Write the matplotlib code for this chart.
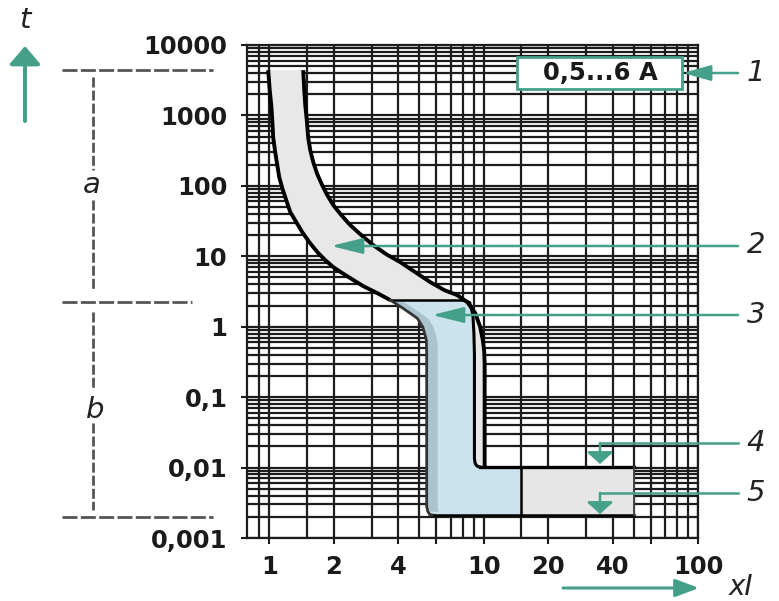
import matplotlib
matplotlib.use("Agg")
import matplotlib.pyplot as plt
from matplotlib.lines import Line2D
from matplotlib.patches import FancyArrowPatch, Rectangle, ArrowStyle
from matplotlib.ticker import LogLocator, NullFormatter, FixedLocator

# ---------------- data ----------------
x_ticks = [1, 2, 4, 6, 10, 20, 40, 60, 100]
x_tick_labels = ['1', '2', '4', '', '10', '20', '40', '', '100']
x_minor_grid = [0.9, 1.5, 3, 5, 7, 8, 9, 15, 30, 50, 70, 80, 90]
y_ticks = [0.001, 0.01, 0.1, 1, 10, 100, 1000, 10000]
y_tick_labels = ['0,001', '0,01', '0,1', '1', '10', '100', '1000', '10000']

# zone 2 : thermal release band
band_left_x = [0.989, 1.005, 1.022, 1.033, 1.044, 1.066, 1.090, 1.113, 1.150, 1.200, 1.253,
               1.336, 1.425, 1.537, 1.674, 1.824, 1.988, 2.19, 2.386, 2.743, 3.188, 3.665]
band_left_t = [4397, 2288, 1400, 858, 476, 301, 197, 133, 92.9, 62.8, 42.4,
               30.6, 22.0, 15.9, 11.5, 8.83, 7.02, 5.77, 4.9, 3.77, 3.0, 2.39]
band_right_x = [1.44, 1.456, 1.472, 1.496, 1.52, 1.553, 1.604, 1.674, 1.766, 1.864, 1.988, 2.166,
                2.386, 2.685, 3.054, 3.512, 4.08, 4.79, 5.63, 6.55, 7.52, 8.38, 9.13, 9.63,
                9.9, 10.05, 10.1, 10.1]
band_right_t = [4397, 2288, 1400, 858, 476, 321, 217, 147, 102, 74, 53.3, 38.5,
                27.7, 20, 14.4, 10.7, 8.26, 5.96, 4.3, 3.31, 2.81, 2.24, 1.56, 0.99,
                0.645, 0.45, 0.3, 0.0102]
inner_x = [8.0, 8.6, 8.9, 9.0, 9.05, 9.05, 9.12, 9.3, 9.6]
inner_t = [2.39, 2.2, 1.49, 0.8, 0.4, 0.0135, 0.0115, 0.0105, 0.0102]
# zone 3 : magnetic release band
blue_left_x = [3.665, 4.2, 4.9, 5.2, 5.4, 5.42, 5.42, 5.48, 5.6, 5.85]
blue_left_t = [2.39, 1.83, 1.32, 0.99, 0.65, 0.4, 0.0028, 0.0024, 0.00215, 0.0021]
# zones 4/5
box_x = [15, 50]
box_t = [0.0021, 0.0102]

rating_text = '0,5...6 A'
callouts = ['1', '2', '3', '4', '5']

TEAL = '#45a08a'
W, H = 779, 601


def F(px, py):
    return (px / W, 1 - py / H)


fig = plt.figure(figsize=(W / 100, H / 100), dpi=100)
ax = fig.add_axes([246.7 / W, 1 - 538 / H, 451.5 / W, 493 / H])
ax.set_xscale('log')
ax.set_yscale('log')
ax.set_xlim(0.785, 100)
ax.set_ylim(0.001, 10000)

# grid
ax.xaxis.set_major_locator(FixedLocator(x_ticks))
ax.xaxis.set_minor_locator(FixedLocator(x_minor_grid))
ax.xaxis.set_minor_formatter(NullFormatter())
ax.set_xticks(x_ticks, x_tick_labels)
ax.yaxis.set_major_locator(FixedLocator(y_ticks))
ax.yaxis.set_minor_locator(LogLocator(base=10, subs=range(2, 10), numticks=50))
ax.yaxis.set_minor_formatter(NullFormatter())
ax.set_yticks(y_ticks, y_tick_labels)
ax.set_axisbelow(True)
ax.grid(True, which='both', color='#1c1c1c', lw=1.6)
ax.tick_params(which='major', length=4, width=1.5, color='#1c1c1c', direction='out')
ax.tick_params(which='minor', length=0)
ax.tick_params(axis='y', pad=10)
ax.tick_params(axis='x', pad=8)
for lab in ax.get_xticklabels() + ax.get_yticklabels():
    lab.set_fontsize(17.5)
    lab.set_fontweight('bold')
    lab.set_color('#1a1a1a')
for sp in ax.spines.values():
    sp.set_linewidth(1.6)
    sp.set_color('#1c1c1c')

# zone 2 fill
poly2_x = band_left_x + inner_x + [band_right_x[-1]] + band_right_x[::-1]
poly2_t = band_left_t + inner_t + [band_right_t[-1]] + band_right_t[::-1]
ax.fill(poly2_x, poly2_t, color='#e8e8e8', zorder=2, lw=0)

# zone 3 fill
poly3_x = blue_left_x + [box_x[0], box_x[0]] + inner_x[::-1]
poly3_t = blue_left_t + [box_t[0], box_t[1]] + inner_t[::-1]
ax.fill(poly3_x, poly3_t, color='#cbe3ed', zorder=2, lw=0)
ax.fill_betweenx(blue_left_t[:8], blue_left_x[:8], [v * 1.12 for v in blue_left_x[:8]],
                 color='#a9c3cf', zorder=2.1, lw=0)

# zones 4/5 box
ax.fill_between(box_x, box_t[0], box_t[1], color='#e6e6e6', zorder=2, lw=0)

# boundary lines
ax.plot(band_left_x, band_left_t, color='black', lw=2.8, zorder=4, solid_capstyle='butt')
ax.plot(band_right_x, band_right_t, color='black', lw=2.8, zorder=4, solid_capstyle='butt')
ax.plot(inner_x, inner_t, color='black', lw=2.2, zorder=4)
ax.plot([band_left_x[-1], inner_x[0]], [band_left_t[-1]] * 2, color='black', lw=1.8, zorder=4)
ax.plot(blue_left_x, blue_left_t, color='#333333', lw=2.0, zorder=4)
ax.plot([inner_x[-1], box_x[1]], [box_t[1]] * 2, color='black', lw=2.4, zorder=4)
ax.plot([blue_left_x[-1], box_x[1]], [box_t[0]] * 2, color='black', lw=1.8, zorder=4)
ax.plot([box_x[0]] * 2, box_t, color='black', lw=1.8, zorder=4)
ax.plot([box_x[1]] * 2, box_t, color='#444444', lw=1.4, zorder=4)

# ---------------- annotations (figure pixel positions) ----------------
def fline(p0, p1, **kw):
    (x0, y0), (x1, y1) = F(*p0), F(*p1)
    fig.add_artist(Line2D([x0, x1], [y0, y1], transform=fig.transFigure, **kw))


def farrow(p0, p1, hl, hw, lw):
    a = FancyArrowPatch(F(*p0), F(*p1), transform=fig.transFigure,
                        arrowstyle=ArrowStyle('-|>', head_length=hl, head_width=hw),
                        mutation_scale=1, lw=lw, color=TEAL, shrinkA=0, shrinkB=0,
                        zorder=10)
    fig.add_artist(a)


dash_kw = dict(color='#555555', lw=2.0, solid_capstyle='butt')
fline((62, 70), (213, 70), linestyle=(0, (5.4, 1.2)), **dash_kw)
fline((62, 301.7), (192, 301.7), linestyle=(0, (5.4, 1.2)), **dash_kw)
fline((62, 516.7), (213, 516.7), linestyle=(0, (5.4, 1.2)), **dash_kw)
for y0, y1 in [(77, 170), (200, 290), (312, 390), (423, 510)]:
    fline((92.7, y0), (92.7, y1), linestyle=(0, (3.6, 1.1)), **dash_kw)
fig.text(*F(92, 185), 'a', fontsize=21, style='italic', ha='center', va='center', color='#222222')
fig.text(*F(95, 410), 'b', fontsize=21, style='italic', ha='center', va='center', color='#222222')

# axis arrows & titles
farrow((25, 121), (25, 46), 11, 9.4, 2.9)
fig.text(*F(25, 20), 't', fontsize=21, style='italic', ha='center', va='center', color='#222222')
farrow((563, 588), (699, 588), 14.4, 5.4, 2.2)
fig.text(*F(741, 587), 'xI', fontsize=20, style='italic', ha='center', va='center', color='#222222')

# rating box
fig.add_artist(Rectangle(F(517, 89), 165 / W, 32 / H, transform=fig.transFigure,
                         facecolor='white', edgecolor=TEAL, lw=2, zorder=9))
fig.text(*F(600, 73), rating_text, fontsize=17.5, fontweight='bold', ha='center', va='center',
         color='#1a1a1a', zorder=11)

# callouts
farrow((738, 73), (683, 73), 17, 4.8, 1.8)
farrow((738, 246), (331, 246), 19.4, 4.8, 1.8)
farrow((738, 315), (432, 315), 19.4, 4.8, 1.8)
fline((738, 443), (600, 443), color=TEAL, lw=1.8, zorder=10)
farrow((600, 443), (600, 464), 7.2, 8, 1.8)
fline((738, 493), (600, 493), color=TEAL, lw=1.8, zorder=10)
farrow((600, 493), (600, 514), 7.2, 8, 1.8)
for lab, (px, py) in zip(callouts, [(756, 73), (756, 245), (756, 315), (756, 443), (756, 493)]):
    fig.text(*F(px, py), lab, fontsize=21, style='italic', ha='center', va='center', color='#222222')

fig.savefig('out.png', dpi=100, facecolor='white')
